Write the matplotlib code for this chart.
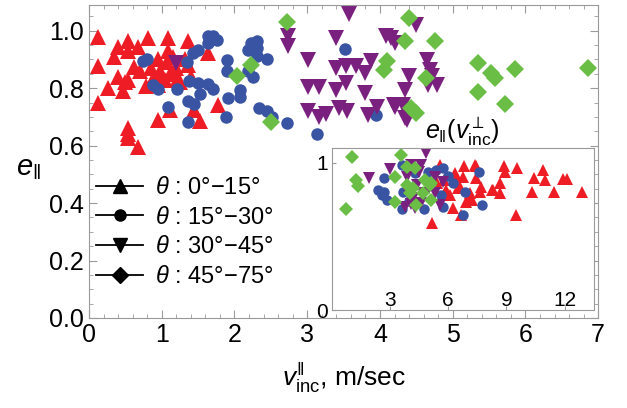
import matplotlib.pyplot as plt
from matplotlib.lines import Line2D
from matplotlib.ticker import MultipleLocator

plt.rcParams['font.family'] = ['Liberation Sans', 'DejaVu Sans']
plt.rcParams['mathtext.fontset'] = 'custom'
plt.rcParams['mathtext.rm'] = 'Liberation Sans'
plt.rcParams['mathtext.it'] = 'Liberation Sans:italic'

# main plot: e_par vs v_inc_par
red_x = [0.13, 0.13, 0.13, 0.26, 0.35, 0.40, 0.40, 0.53, 0.53, 0.49, 0.47, 0.54, 0.62, 0.675,
         0.81, 0.79, 0.85, 0.95, 0.95, 0.97, 0.99, 1.09, 1.09, 1.07, 1.11, 1.12, 1.16, 1.20,
         1.21, 1.36, 1.32, 1.36, 1.40, 1.45, 1.52, 1.63, 1.77, 0.54, 0.54, 0.54, 0.675, 0.95,
         1.05, 0.70, 0.90, 1.25]
red_y = [0.978, 0.878, 0.748, 0.80, 0.91, 0.945, 0.84, 0.963, 0.93, 0.823, 0.79, 0.83, 0.875, 0.945,
         0.975, 0.806, 0.87, 0.90, 0.69, 0.86, 0.83, 0.975, 0.93, 0.89, 0.725, 0.85, 0.91, 0.87,
         0.83, 0.963, 0.90, 0.88, 0.84, 0.725, 0.685, 0.922, 0.742, 0.66, 0.64, 0.625, 0.597, 0.81,
         0.83, 0.86, 0.84, 0.82]
blue_x = [0.74, 0.80, 0.88, 0.95, 1.08, 1.21, 1.35, 1.36, 1.37, 1.36, 1.44, 1.43, 1.50, 1.50,
          1.53, 1.63, 1.70, 1.63, 1.70, 1.76, 1.64, 1.90, 1.90, 1.91, 1.89, 2.07, 2.07, 2.18,
          2.23, 2.31, 2.31, 2.31, 2.45, 2.18, 2.25, 2.34, 2.45, 2.51, 2.72, 3.13, 3.52, 3.95]
blue_y = [0.893, 0.90, 0.81, 0.797, 0.734, 0.797, 0.89, 0.754, 0.826, 0.684, 0.744, 0.922, 0.934, 0.817,
          0.78, 0.813, 0.797, 0.983, 0.98, 0.969, 0.957, 0.899, 0.86, 0.765, 0.698, 0.794, 0.768, 0.934,
          0.957, 0.963, 0.94, 0.911, 0.90, 0.86, 0.84, 0.73, 0.72, 0.70, 0.68, 0.64, 0.937, 0.705]
purple_x = [1.20, 2.74, 2.74, 3.01, 3.01, 3.16, 3.01, 3.16, 3.26, 3.39, 3.39, 3.39, 3.43, 3.58,
            3.53, 3.67, 3.80, 3.87, 3.53, 3.80, 3.55, 3.83, 3.96, 4.08, 4.15, 4.21, 4.19, 4.31,
            4.35, 4.40, 4.34, 4.49, 4.65, 4.69, 4.72, 4.78, 4.66, 4.21, 4.37]
purple_y = [0.887, 0.982, 0.948, 0.899, 0.804, 0.804, 0.72, 0.70, 0.71, 0.975, 0.87, 0.795, 0.73, 1.06,
            0.876, 0.876, 0.853, 0.894, 0.817, 0.783, 0.72, 0.707, 0.736, 0.98, 0.975, 0.957, 0.742, 0.742,
            0.696, 0.841, 0.794, 1.02, 0.899, 0.864, 0.841, 0.812, 0.81, 0.736, 0.69]
green_x = [2.72, 2.23, 2.04, 2.50, 4.40, 4.35, 4.76, 4.10, 4.05, 4.63, 4.42, 4.49, 5.35, 5.52,
           5.58, 5.86, 5.35, 5.72, 6.86]
green_y = [1.03, 0.88, 0.841, 0.684, 1.044, 0.963, 0.963, 0.894, 0.864, 0.835, 0.73, 0.713, 0.887, 0.853,
           0.835, 0.868, 0.786, 0.745, 0.872]

# inset: e_par vs v_inc_perp
in_red_x = [6.79, 7.41, 8.89, 8.92, 9.53, 10.86, 10.44, 11.0, 11.92, 12.14, 10.32, 11.46, 12.91, 8.69,
            8.69, 8.27, 9.5, 6.76, 7.45, 7.70, 7.62, 7.10, 6.93, 7.24, 6.33, 6.59, 6.25, 6.68,
            5.19, 5.56, 6.33, 7.36, 5.91, 6.50, 7.02, 8.30, 5.40, 5.80, 6.10]
in_red_y = [0.98, 0.98, 0.98, 0.94, 0.964, 0.952, 0.896, 0.884, 0.89, 0.89, 0.805, 0.805, 0.805, 0.862,
            0.794, 0.816, 0.646, 0.907, 0.896, 0.839, 0.805, 0.794, 0.737, 0.748, 0.918, 0.839, 0.692, 0.646,
            0.594, 0.986, 0.93, 0.986, 0.816, 0.828, 0.748, 0.816, 0.86, 0.88, 0.78]
in_blue_x = [2.71, 2.37, 2.71, 2.83, 3.63, 3.63, 4.76, 4.96, 5.39, 5.73, 5.99, 6.25, 5.62, 6.85,
             6.76, 7.58, 7.73, 3.68, 5.73, 2.60, 4.30, 4.00]
in_blue_y = [0.90, 0.816, 0.805, 0.748, 0.986, 0.685, 0.685, 0.94, 0.952, 0.964, 0.91, 0.862, 0.782, 0.805,
             0.646, 0.937, 0.714, 0.805, 0.703, 0.78, 0.93, 0.74]
in_purple_x = [3.0, 1.92, 4.88, 4.62, 4.08, 3.86, 4.20, 4.71, 4.62, 3.77, 4.28, 5.31, 5.56, 5.73,
               5.31, 4.40, 3.95, 4.50, 5.00, 4.10]
in_purple_y = [0.957, 0.90, 1.07, 0.986, 0.986, 0.907, 0.76, 0.794, 0.726, 0.703, 0.692, 0.794, 0.714, 0.873,
               0.907, 0.85, 0.80, 0.94, 0.83, 0.72]
in_green_x = [1.07, 3.56, 1.24, 1.34, 0.73, 3.26, 3.86, 4.28, 3.86, 4.20, 4.03, 4.79, 5.14, 4.71,
              5.14, 3.26, 4.32, 5.05]
in_green_y = [1.04, 1.05, 0.88, 0.845, 0.685, 0.907, 0.975, 0.964, 0.85, 0.828, 0.794, 0.884, 0.862, 0.794,
              0.748, 0.737, 0.714, 0.85]

labels = ["$\\theta$ : 0°−15°", "$\\theta$ : 15°−30°", "$\\theta$ : 30°−45°", "$\\theta$ : 45°−75°"]

red = '#ee1c25'
blue = '#3a54a4'
purple = '#7a2180'
green = '#6abd45'
frame = '#9a9a9a'

fig = plt.figure(figsize=(6.27, 4.08), dpi=100)
ax = fig.add_axes([0.142, 0.2206, 0.812, 0.7674])

ax.plot(red_x, red_y, '^', color=red, ms=11, mew=0)
ax.plot(blue_x, blue_y, 'o', color=blue, ms=9, mew=0)
ax.plot(purple_x, purple_y, 'v', color=purple, ms=11, mew=0)
ax.plot(green_x, green_y, 'D', color=green, ms=9, mew=0)

ax.set_xlim(0, 7)
ax.set_ylim(0, 1.09)
ax.xaxis.set_major_locator(MultipleLocator(1))
ax.xaxis.set_minor_locator(MultipleLocator(0.2))
ax.yaxis.set_minor_locator(MultipleLocator(0.05))
ax.set_yticks([0, 0.2, 0.4, 0.6, 0.8, 1.0])
ax.set_yticklabels(['0.0', '0.2', '0.4', '0.6', '0.8', '1.0'])
ax.tick_params(which='both', direction='in', top=True, right=True, color=frame, labelsize=18)
ax.tick_params(which='major', length=6)
ax.tick_params(which='minor', length=3)
for s in ax.spines.values():
    s.set_color(frame)

ax.set_xlabel(r"$v_{\rm inc}^{\|}$, m/sec", fontsize=19, labelpad=10)
ax.set_ylabel(r"$e_{\|}$", fontsize=21, rotation=0, va='center')
ax.yaxis.set_label_coords(-0.12, 0.48)

handles = [Line2D([], [], color='k', marker=m, ms=ms, lw=1.3) for m, ms in
           [('^', 10), ('o', 8), ('v', 10), ('D', 8)]]
ax.legend(handles, labels, loc='upper left', bbox_to_anchor=(-0.005, 0.48), frameon=False,
          fontsize=17, handlelength=2.0, handletextpad=0.5, labelspacing=0.32, borderaxespad=0)

# inset
axi = fig.add_axes([0.529, 0.240, 0.418, 0.397])
axi.plot(in_red_x, in_red_y, '^', color=red, ms=9, mew=0)
axi.plot(in_blue_x, in_blue_y, 'o', color=blue, ms=7.5, mew=0)
axi.plot(in_purple_x, in_purple_y, 'v', color=purple, ms=9, mew=0)
axi.plot(in_green_x, in_green_y, 'D', color=green, ms=7.5, mew=0)
axi.set_xlim(0, 13.5)
axi.set_ylim(0, 1.1)
axi.set_xticks([3, 6, 9, 12])
axi.set_yticks([0, 1])
axi.tick_params(axis='x', direction='in', pad=-14, labelsize=15, color=frame, length=3)
axi.tick_params(axis='y', direction='in', labelsize=15, color=frame, length=3, pad=3)
for s in axi.spines.values():
    s.set_color(frame)
axi.set_title(r"$e_{\|}(v_{\rm inc}^{\perp})$", fontsize=18, pad=4)

fig.savefig('out.png', dpi=100)
